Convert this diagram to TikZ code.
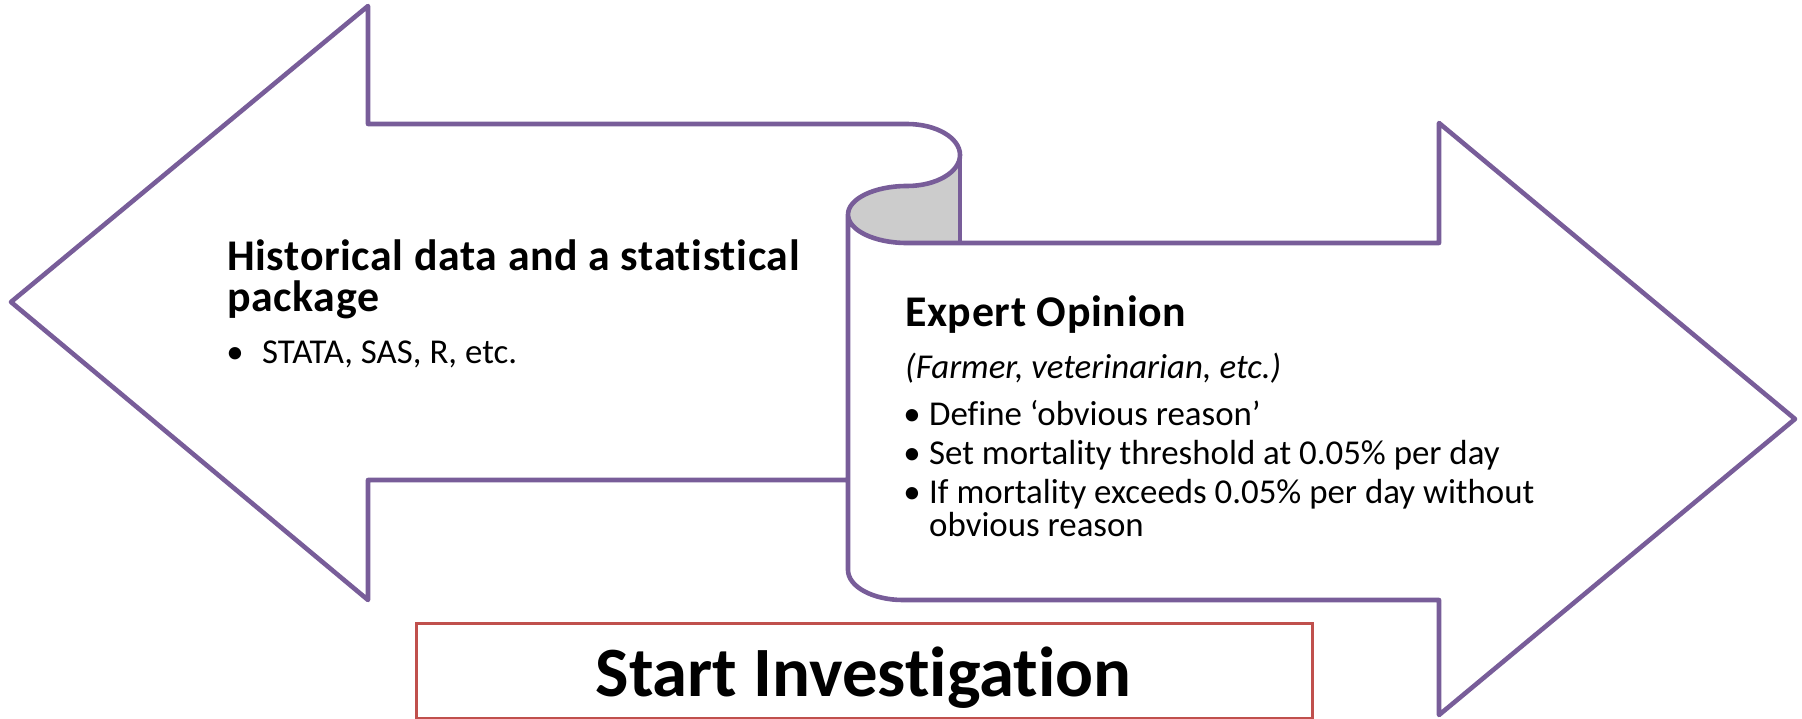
\documentclass[tikz,border=0pt]{standalone}
\usepackage{fontspec}
\setmainfont{Carlito}[Ligatures={TeX,NoCommon}]
\definecolor{arrowline}{RGB}{120,93,153}
\definecolor{curlgray}{RGB}{204,204,204}
\definecolor{boxred}{RGB}{192,80,77}
\begin{document}
\begin{tikzpicture}[x=1bp,y=-1bp,
  outline/.style={draw=arrowline,line width=4.6bp,line join=round},
  curlfill/.style={fill=curlgray},
  startframe/.style={draw=boxred,line width=3bp,inner sep=0pt},
  txt/.style={inner sep=0pt,anchor=base west,text=black},
  dot/.style={inner sep=0pt,anchor=base,text=black},
  headfont/.style={font=\fontsize{44}{41}\selectfont\bfseries\addfontfeatures{LetterSpace=1.5}},
  bodyfont/.style={font=\fontsize{35}{33}\selectfont},
  italfont/.style={font=\fontsize{35}{42}\selectfont\itshape},
  bigfont/.style={font=\fontsize{71}{80}\selectfont\bfseries}]
\useasboundingbox (0,0) rectangle (1802,719);

% shaded inside of the rolled-up scroll end
\fill[curlfill] (960,155) arc[start angle=0,end angle=90,x radius=53,y radius=31]
  arc[start angle=-90,end angle=-270,x radius=59,y radius=28.5] -- (960,243) -- cycle;

% left arrow joined to the scroll-shaped right arrow
\draw[outline] (848,480) -- (368,480) -- (368,600) -- (11,302) -- (368,6) -- (368,124)
  -- (907,124) arc[start angle=-90,end angle=90,x radius=53,y radius=31]
  arc[start angle=-90,end angle=-270,x radius=59,y radius=28.5]
  -- (1439,243) -- (1439,123) -- (1795,419) -- (1439,715) -- (1439,600)
  -- (903,600) arc[start angle=90,end angle=180,x radius=55,y radius=30]
  -- (848,214.5);
\draw[outline] (960,155) -- (960,243);

% left arrow text (base anchor sits on the last line)
\node[txt,headfont,align=left] (hist1) at (227,311) {Historical data and a statistical\\package};
\node[dot,bodyfont] (histb) at (235,363) {•};
\node[txt,bodyfont] (hist3) at (262,363) {STATA, SAS, R, etc.};

% right arrow text
\node[txt,headfont] (exp1) at (905,326) {Expert Opinion};
\node[txt,italfont] (exp2) at (905,378) {(Farmer, veterinarian, etc.)};
\node[dot,bodyfont] (expb1) at (912,425) {•};
\node[txt,bodyfont] (exp3) at (929,425) {Define ‘obvious reason’};
\node[dot,bodyfont] (expb2) at (912,464) {•};
\node[txt,bodyfont] (exp4) at (929,464) {Set mortality threshold at 0.05\% per day};
\node[dot,bodyfont] (expb3) at (912,503) {•};
\node[txt,bodyfont,align=left] (exp5) at (929,536) {If mortality exceeds 0.05\% per day without\\obvious reason};

% bottom box
\node[startframe,anchor=north west,minimum width=896bp,minimum height=95bp] (startbox) at (415,622) {};
\node[inner sep=0pt,anchor=base,bigfont] (starttext) at (863.5,696) {Start Investigation};
\end{tikzpicture}
\end{document}
